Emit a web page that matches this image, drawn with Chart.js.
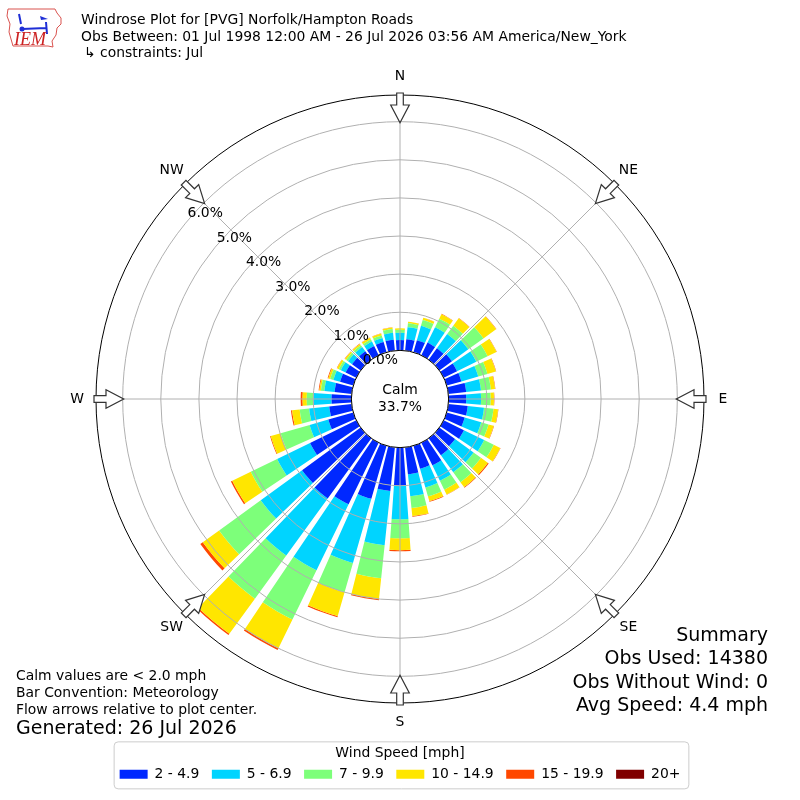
<!DOCTYPE html>
<html>
<head>
<meta charset="utf-8">
<title>Windrose PVG</title>
<script src="https://cdn.jsdelivr.net/npm/chart.js@4.4.0/dist/chart.umd.min.js"></script>
<style>
  html, body { margin: 0; padding: 0; background: #fff; }
  canvas { display: block; }
</style>
</head>
<body>
<canvas id="windrose" width="800" height="800"></canvas>
<script>
// direction bins (degrees, meteorological) and speed bins
const directions = [0, 10, 20, 30, 40, 50, 60, 70, 80, 90, 100, 110, 120, 130, 140, 150, 160, 170,
                    180, 190, 200, 210, 220, 230, 240, 250, 260, 270, 280, 290, 300, 310, 320, 330, 340, 350];
const speedBins = ['2 - 4.9', '5 - 6.9', '7 - 9.9', '10 - 14.9', '15 - 19.9', '20+'];
const binColors = ['#0028ff', '#00d4ff', '#7dff7a', '#ffe600', '#ff4800', '#800000'];

// percent of observations, per direction
const spd2to5 = [0.27, 0.30, 0.33, 0.37, 0.37, 0.41, 0.39, 0.40, 0.47, 0.46, 0.51, 0.49, 0.59, 0.51, 0.55, 0.66, 0.63, 0.71,
                 1.00, 1.15, 1.45, 1.80, 1.95, 1.90, 1.35, 0.68, 0.59, 0.52, 0.45, 0.36, 0.31, 0.28, 0.27, 0.27, 0.28, 0.29];
const spd5to7 = [0.19, 0.32, 0.39, 0.45, 0.46, 0.53, 0.56, 0.46, 0.39, 0.39, 0.43, 0.45, 0.59, 0.60, 0.55, 0.45, 0.51, 0.58,
                 0.88, 1.43, 1.75, 1.92, 1.85, 1.34, 0.96, 0.51, 0.53, 0.48, 0.27, 0.18, 0.14, 0.13, 0.14, 0.13, 0.11, 0.18];
const spd7to10 = [0.08, 0.10, 0.16, 0.25, 0.27, 0.49, 0.33, 0.25, 0.26, 0.25, 0.25, 0.20, 0.28, 0.24, 0.32, 0.26, 0.24, 0.31,
                  0.50, 0.87, 0.80, 1.44, 1.40, 1.35, 0.77, 0.79, 0.25, 0.17, 0.09, 0.09, 0.06, 0.06, 0.06, 0.06, 0.07, 0.10];
const spd10to15 = [0.04, 0.04, 0.06, 0.13, 0.24, 0.41, 0.26, 0.23, 0.11, 0.09, 0.12, 0.14, 0.19, 0.22, 0.16, 0.14, 0.13, 0.21,
                   0.31, 0.55, 0.65, 0.84, 1.14, 0.53, 0.54, 0.27, 0.20, 0.11, 0.04, 0.05, 0.05, 0.04, 0.04, 0.05, 0.05, 0.04];
const spd15to20 = [0.00, 0.005, 0.005, 0.01, 0.01, 0.01, 0.01, 0.01, 0.01, 0.01, 0.01, 0.01, 0.01, 0.03, 0.02, 0.01, 0.02, 0.02,
                   0.03, 0.03, 0.03, 0.05, 0.04, 0.08, 0.04, 0.02, 0.03, 0.05, 0.02, 0.02, 0.01, 0.01, 0.01, 0.01, 0.01, 0.005];
const spd20up = [0, 0, 0, 0, 0, 0, 0, 0, 0, 0, 0, 0, 0, 0, 0, 0, 0, 0,
                 0, 0, 0, 0, 0, 0, 0, 0, 0, 0, 0, 0, 0, 0, 0, 0, 0, 0];
const binValues = [spd2to5, spd5to7, spd7to10, spd10to15, spd15to20, spd20up];

const ringTicks = [0, 1, 2, 3, 4, 5, 6];
const compassLabels = ['N', 'NE', 'E', 'SE', 'S', 'SW', 'W', 'NW'];
const calmPct = 33.7;

const titleLines = [
  'Windrose Plot for [PVG] Norfolk/Hampton Roads',
  'Obs Between: 01 Jul 1998 12:00 AM - 26 Jul 2026 03:56 AM America/New_York',
  '\u21b3 constraints: Jul'
];
const noteLines = ['Calm values are < 2.0 mph', 'Bar Convention: Meteorology', 'Flow arrows relative to plot center.'];
const generatedLine = 'Generated: 26 Jul 2026';
const summaryLines = ['Summary', 'Obs Used: 14380', 'Obs Without Wind: 0', 'Avg Speed: 4.4 mph'];

const FONT = '13.9px "DejaVu Sans"';
const BIG_FONT = '19px "DejaVu Sans"';
const barOpening = 0.8;

Chart.defaults.font.family = '"DejaVu Sans", sans-serif';
Chart.defaults.color = '#000';

// stack the speed bins radially and leave gaps between direction wedges
const stackBars = {
  id: 'stackBars',
  afterDatasetsUpdate(chart) {
    const scale = chart.scales.r;
    const base = new Array(chart.data.labels.length).fill(0);
    chart.data.datasets.forEach((ds, di) => {
      chart.getDatasetMeta(di).data.forEach((arc, i) => {
        const lo = base[i];
        const hi = lo + ds.data[i];
        base[i] = hi;
        const trim = (arc.endAngle - arc.startAngle) * (1 - barOpening) / 2;
        arc.startAngle += trim;
        arc.endAngle -= trim;
        arc.innerRadius = scale.getDistanceFromCenterForValue(lo);
        arc.outerRadius = scale.getDistanceFromCenterForValue(hi);
      });
    });
  }
};

function drawLogo(ctx) {
  ctx.save();
  ctx.strokeStyle = '#d9534f';
  ctx.lineWidth = 1;
  const outline = [[8, 9], [55, 9], [57, 13], [61, 18], [61, 24], [57, 28], [56, 35], [52, 41], [53, 47],
                   [48, 46], [13, 46], [11, 39], [9, 32], [10, 24], [7, 16]];
  ctx.beginPath();
  outline.forEach(([x, y], i) => (i ? ctx.lineTo(x, y) : ctx.moveTo(x, y)));
  ctx.closePath();
  ctx.stroke();
  ctx.strokeStyle = '#1f2fd6';
  ctx.fillStyle = '#1f2fd6';
  ctx.lineWidth = 2;
  ctx.beginPath();
  ctx.moveTo(22, 29); ctx.lineTo(46, 28);
  ctx.moveTo(46, 22); ctx.lineTo(47, 34);
  ctx.moveTo(19, 14); ctx.lineTo(21, 24);
  ctx.stroke();
  ctx.beginPath(); ctx.moveTo(40, 16); ctx.lineTo(48, 19); ctx.lineTo(41, 20); ctx.fill();
  ctx.beginPath(); ctx.arc(22, 29, 2.5, 0, Math.PI * 2); ctx.fill();
  ctx.fillStyle = '#cc2222';
  ctx.font = 'italic 18px "Liberation Serif"';
  ctx.textAlign = 'left';
  ctx.textBaseline = 'alphabetic';
  ctx.fillText('IEM', 14, 45);
  ctx.restore();
}

const decorations = {
  id: 'decorations',
  afterDraw(chart) {
    const ctx = chart.ctx;
    const scale = chart.scales.r;
    const cx = scale.xCenter, cy = scale.yCenter, R = scale.drawingArea;
    const calmR = scale.getDistanceFromCenterForValue(0);
    const at = (deg, rad, side = 0) => {
      const a = deg * Math.PI / 180;
      return [cx + rad * Math.sin(a) + side * Math.cos(a), cy - rad * Math.cos(a) + side * Math.sin(a)];
    };
    ctx.save();

    // spokes every 45 degrees
    ctx.strokeStyle = '#b0b0b0';
    ctx.lineWidth = 1;
    compassLabels.forEach((_, k) => {
      const [x1, y1] = at(k * 45, calmR);
      const [x2, y2] = at(k * 45, R);
      ctx.beginPath(); ctx.moveTo(x1, y1); ctx.lineTo(x2, y2); ctx.stroke();
    });

    // outer frame
    ctx.strokeStyle = '#000';
    ctx.beginPath(); ctx.arc(cx, cy, R, 0, Math.PI * 2); ctx.stroke();

    // calm circle
    ctx.fillStyle = '#fff';
    ctx.beginPath(); ctx.arc(cx, cy, calmR, 0, Math.PI * 2); ctx.fill(); ctx.stroke();
    ctx.fillStyle = '#000';
    ctx.font = FONT;
    ctx.textAlign = 'center';
    ctx.textBaseline = 'middle';
    ctx.fillText('Calm', cx, cy - 9);
    ctx.fillText(calmPct.toFixed(1) + '%', cx, cy + 8);

    // ring labels along the 310 degree line
    ctx.textAlign = 'left';
    ctx.textBaseline = 'bottom';
    ringTicks.forEach(v => {
      const [x, y] = at(310, scale.getDistanceFromCenterForValue(v));
      ctx.fillText(v.toFixed(1) + '%', x, y);
    });

    // hollow flow arrows pointing to the centre
    const arrow = [[0, -3.3], [12, -3.3], [12, -9.3], [29.7, 0], [12, 9.3], [12, 3.3], [0, 3.3]];
    ctx.fillStyle = '#fff';
    ctx.strokeStyle = '#333';
    ctx.lineWidth = 1.2;
    compassLabels.forEach((_, k) => {
      ctx.beginPath();
      arrow.forEach(([t, s], i) => {
        const [x, y] = at(k * 45, R + 2 - t, s);
        i ? ctx.lineTo(x, y) : ctx.moveTo(x, y);
      });
      ctx.closePath(); ctx.fill(); ctx.stroke();
    });

    // compass labels
    ctx.fillStyle = '#000';
    ctx.textAlign = 'center';
    ctx.textBaseline = 'middle';
    compassLabels.forEach((lab, k) => {
      const [x, y] = at(k * 45, R + 19);
      ctx.fillText(lab, x, y);
    });

    // header
    ctx.textAlign = 'left';
    ctx.fillText(titleLines[0], 81, 20);
    ctx.fillText(titleLines[1], 81, 37);
    ctx.fillText(titleLines[2], 84, 53);

    // notes, bottom left
    noteLines.forEach((t, i) => ctx.fillText(t, 16, 676.5 + i * 17));
    ctx.font = BIG_FONT;
    ctx.fillText(generatedLine, 16, 729);

    // summary, bottom right
    ctx.textAlign = 'right';
    summaryLines.forEach((t, i) => ctx.fillText(t, 768, 636 + i * 23.3));

    // legend frame
    const lg = chart.legend;
    const hb = lg.legendHitBoxes;
    if (hb && hb.length) {
      const last = hb[hb.length - 1];
      const x0 = hb[0].left - 6;
      const x1 = last.left + last.width + 8;
      ctx.strokeStyle = '#cccccc';
      ctx.lineWidth = 1;
      ctx.beginPath();
      if (ctx.roundRect) ctx.roundRect(x0 + 0.5, lg.top + 0.5, x1 - x0, 47, 4);
      else ctx.rect(x0 + 0.5, lg.top + 0.5, x1 - x0, 47);
      ctx.stroke();
    }

    drawLogo(ctx);
    ctx.restore();
  }
};

const ctx = document.getElementById('windrose').getContext('2d');
new Chart(ctx, {
  type: 'polarArea',
  data: {
    labels: directions.map(String),
    datasets: speedBins.map((label, i) => ({
      label: label,
      data: binValues[i],
      backgroundColor: binColors[i],
      borderWidth: 0
    }))
  },
  options: {
    responsive: false,
    devicePixelRatio: 1,
    animation: false,
    events: [],
    layout: { padding: { top: 57.5, bottom: 8.75, left: 96, right: 96 } },
    scales: {
      r: {
        startAngle: -5,
        min: -1.276,
        max: 6.70,
        afterBuildTicks: (s) => { s.ticks = ringTicks.map(v => ({ value: v })); },
        ticks: { display: false },
        grid: { color: '#b0b0b0', lineWidth: 1, z: 1, circular: true },
        angleLines: { display: false },
        pointLabels: { display: false }
      }
    },
    plugins: {
      legend: {
        position: 'bottom',
        title: {
          display: true,
          text: 'Wind Speed [mph]',
          color: '#000',
          font: { size: 13.9, lineHeight: 0.61 },
          padding: { top: 5, bottom: 0 }
        },
        labels: {
          boxWidth: 28,
          boxHeight: 9,
          padding: 12.5,
          color: '#000',
          font: { size: 13.9 },
          generateLabels: (chart) => chart.data.datasets.map((ds, i) => ({
            text: ds.label,
            fillStyle: ds.backgroundColor,
            strokeStyle: ds.backgroundColor,
            lineWidth: 0,
            hidden: false,
            fontColor: '#000',
            datasetIndex: i
          }))
        }
      },
      tooltip: { enabled: false }
    }
  },
  plugins: [stackBars, decorations]
});
</script>
</body>
</html>
